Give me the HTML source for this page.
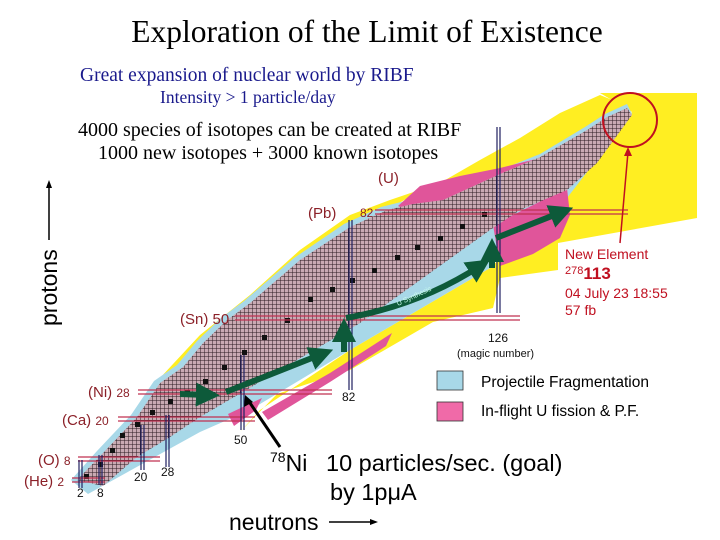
<!DOCTYPE html>
<html><head><meta charset="utf-8"><style>
html,body{margin:0;padding:0;background:#fff}
svg{display:block}
.serif{font-family:"Liberation Serif",serif}
.sans{font-family:"Liberation Sans",sans-serif}
</style></head><body>
<svg width="720" height="540" viewBox="0 0 720 540">
<defs>
<pattern id="chk" width="4" height="4" patternUnits="userSpaceOnUse">
<rect width="4" height="4" fill="#c9aab3"/>
<path d="M0 0H4M0 0V4" stroke="#2a1a20" stroke-width="1"/>
</pattern>
<marker id="ah" markerWidth="4" markerHeight="4" refX="2" refY="2" orient="auto"><path d="M0,0 L4,2 L0,4z" fill="#0d5a3a"/></marker>
</defs>
<text class="serif" x="367" y="42" font-size="31.5" text-anchor="middle">Exploration of the Limit of Existence</text>
<text class="serif" x="80" y="81" font-size="19.5" fill="#1a1a8c">Great expansion of nuclear world by RIBF</text>
<text class="serif" x="160" y="103" font-size="17.5" fill="#1a1a8c">Intensity &gt; 1 particle/day</text>

<g fill="#ffee22">
<polygon points="600,93 697,93 697,218 558,243 558,270 500,278 493,308 433,322 350,370 277,394 240,432 260,410 350,350 490,268 567,195 632,112"/>
<polygon points="160,378 200,335 250,295 300,250 350,215 390,200 440,183 480,160 520,138 560,113 600,95 627,106 587,130 540,157 500,173 443,192 413,195 387,210 350,227 300,260 250,303 227,320 203,343 183,367"/>
</g>
<rect x="558" y="243" width="142" height="88" fill="#fff"/>

<polygon fill="#a8d8e8" points="71,480 97,451 131,415 154,381 177,365 197,341 221,318 244,301 294,258 344,224 381,207 409,200 443,196 500,170 540,154 585,127 605,114 627,104 632,114 567,198 500,245 490,268 350,350 250,410 200,432 88,494"/>
<g fill="#e0559a">
<polygon points="398,206 420,186 460,176 500,168 540,158 500,180 443,203 410,212"/>
<polygon points="493,225 567,188 570,215 560,238 533,254 500,266"/>
<polygon points="262,412 330,373 392,333 386,346 330,382 268,420"/>
<polygon points="228,414 262,398 256,410 234,426"/>
</g>
<polygon fill="url(#chk)" points="77,480 103,453 137,417 160,383 183,367 203,343 227,320 250,303 300,260 350,227 387,210 413,204 443,200 500,174 540,157 587,130 607,117 627,108 632,115 597,163 567,190 520,210 490,230 360,323 200,417 170,437 137,457 103,486"/>

<g fill="#111">
<rect x="84" y="474" width="5" height="5"/><rect x="98" y="462" width="5" height="5"/><rect x="110" y="448" width="5" height="5"/><rect x="120" y="433" width="5" height="5"/><rect x="135" y="422" width="5" height="5"/><rect x="150" y="410" width="5" height="5"/><rect x="168" y="399" width="5" height="5"/><rect x="185" y="390" width="5" height="5"/><rect x="203" y="379" width="5" height="5"/><rect x="222" y="365" width="5" height="5"/><rect x="242" y="350" width="5" height="5"/><rect x="262" y="335" width="5" height="5"/><rect x="285" y="318" width="5" height="5"/><rect x="308" y="297" width="5" height="5"/><rect x="330" y="287" width="5" height="5"/><rect x="350" y="278" width="5" height="5"/><rect x="372" y="268" width="5" height="5"/><rect x="395" y="255" width="5" height="5"/><rect x="415" y="245" width="5" height="5"/><rect x="438" y="236" width="5" height="5"/><rect x="460" y="224" width="5" height="5"/><rect x="482" y="212" width="5" height="5"/>
</g>

<g stroke-width="1.2">
<g stroke="#c03050"><line x1="72" y1="478" x2="105" y2="478"/><line x1="72" y1="482" x2="105" y2="482"/>
<line x1="78" y1="457" x2="160" y2="457"/><line x1="78" y1="461" x2="160" y2="461"/>
<line x1="118" y1="417" x2="255" y2="417"/><line x1="118" y1="421" x2="255" y2="421"/>
<line x1="138" y1="390" x2="332" y2="390"/><line x1="138" y1="394" x2="332" y2="394"/>
<line x1="235" y1="316" x2="520" y2="316"/><line x1="235" y1="320" x2="520" y2="320"/>
<line x1="375" y1="210" x2="628" y2="210"/><line x1="375" y1="214" x2="628" y2="214"/></g>
<g stroke="#202060"><line x1="79" y1="460" x2="79" y2="488"/><line x1="82" y1="460" x2="82" y2="488"/>
<line x1="99" y1="455" x2="99" y2="485"/><line x1="102" y1="455" x2="102" y2="485"/>
<line x1="141" y1="425" x2="141" y2="470"/><line x1="144" y1="425" x2="144" y2="470"/>
<line x1="166" y1="415" x2="166" y2="467"/><line x1="169" y1="415" x2="169" y2="467"/>
<line x1="241" y1="355" x2="241" y2="430"/><line x1="244" y1="355" x2="244" y2="430"/>
<line x1="349" y1="220" x2="349" y2="390"/><line x1="352" y1="220" x2="352" y2="390"/>
<line x1="497" y1="127" x2="497" y2="313"/><line x1="500" y1="127" x2="500" y2="313"/></g>
</g>

<g stroke="#0d5a3a" stroke-width="6" fill="none" marker-end="url(#ah)">
<line x1="180" y1="394" x2="208" y2="395"/>
<line x1="226" y1="392" x2="322" y2="354"/>
<line x1="344" y1="352" x2="344" y2="330"/>
<path d="M346,318 Q420,305 480,266"/>
<line x1="492" y1="268" x2="492" y2="250"/>
<line x1="496" y1="238" x2="562" y2="212"/>
</g>
<text class="sans" x="398" y="306" font-size="7" fill="#cfe" transform="rotate(-25 398 306)">U Synthesis</text>

<g class="sans" fill="#8b2028" font-size="15">
<text x="378" y="183">(U)</text>
<text x="308" y="218">(Pb)</text><text x="360" y="217" font-size="12">82</text>
<text x="180" y="324">(Sn) 50</text>
<text x="88" y="397">(Ni) <tspan font-size="12">28</tspan></text>
<text x="62" y="425">(Ca) <tspan font-size="12">20</tspan></text>
<text x="38" y="465">(O) <tspan font-size="12">8</tspan></text>
<text x="24" y="486">(He) <tspan font-size="12">2</tspan></text>
</g>
<g class="sans" fill="#111" font-size="12">
<text x="77" y="497">2</text><text x="97" y="497">8</text>
<text x="134" y="481">20</text><text x="161" y="476">28</text>
<text x="234" y="444">50</text><text x="342" y="401">82</text>
<text x="488" y="342">126</text><text x="457" y="357" font-size="11">(magic number)</text>
</g>

<rect x="437" y="371" width="26" height="19" fill="#a8d8e8" stroke="#333" stroke-width="0.8"/>
<text class="sans" x="481" y="387" font-size="15.5">Projectile Fragmentation</text>
<rect x="437" y="402" width="26" height="19" fill="#f06aa8" stroke="#333" stroke-width="0.8"/>
<text class="sans" x="481" y="416" font-size="15.5">In-flight U fission &amp; P.F.</text>

<ellipse cx="630" cy="120" rx="27" ry="27" fill="none" stroke="#c01020" stroke-width="2"/>
<line x1="620" y1="243" x2="628" y2="152" stroke="#c01020" stroke-width="1.5"/>
<polygon points="628,147 624,156 632,156" fill="#c01020"/>
<g class="sans" fill="#c01020" font-size="14">
<text x="565" y="259">New Element</text>
<text x="565" y="279"><tspan font-size="11" dy="-5">278</tspan><tspan font-size="17" font-weight="bold" dy="5">113</tspan></text>
<text x="565" y="298">04 July 23 18:55</text>
<text x="565" y="315">57 fb</text>
</g>

<text class="serif" x="78" y="136" font-size="20">4000 species of isotopes can be created at RIBF</text>
<text class="serif" x="98" y="159" font-size="20">1000 new isotopes + 3000 known isotopes</text>

<line x1="280" y1="447" x2="248" y2="400" stroke="#000" stroke-width="3"/>
<polygon points="245,395 244,407 253,402" fill="#000"/>
<text class="sans" x="270" y="471" font-size="23"><tspan font-size="14" dy="-9">78</tspan><tspan dy="9">Ni</tspan></text>
<text class="sans" x="326" y="471" font-size="23.5">10 particles/sec. (goal)</text>
<text class="sans" x="330" y="500" font-size="23.5">by 1pμA</text>
<text class="sans" x="229" y="530" font-size="23">neutrons</text>
<line x1="329" y1="522" x2="372" y2="522" stroke="#000" stroke-width="1.5"/>
<polygon points="378,522 370,519 370,525" fill="#000"/>
<text class="sans" x="57" y="326" font-size="23" transform="rotate(-90 57 326)">protons</text>
<line x1="49" y1="240" x2="49" y2="186" stroke="#000" stroke-width="1.5"/>
<polygon points="49,180 46,188 52,188" fill="#000"/>
</svg>
</body></html>
